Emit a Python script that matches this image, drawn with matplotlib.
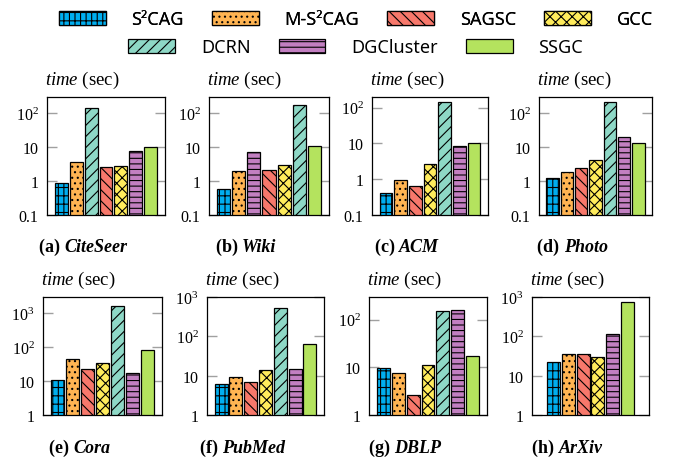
import numpy as np
import matplotlib
matplotlib.use('Agg')
import matplotlib.pyplot as plt
from matplotlib.patches import Patch
from matplotlib.offsetbox import TextArea, HPacker, AnchoredOffsetbox

plt.rcParams['font.family'] = ['Liberation Serif', 'DejaVu Serif']
plt.rcParams['mathtext.fontset'] = 'custom'
plt.rcParams['mathtext.rm'] = 'Liberation Serif'
plt.rcParams['mathtext.it'] = 'Liberation Serif:italic'
plt.rcParams['mathtext.bf'] = 'Liberation Serif:bold'
plt.rcParams['hatch.linewidth'] = 0.8

# methods, colours and hatches
methods = ['S2CAG', 'M-S2CAG', 'SAGSC', 'GCC', 'DCRN', 'DGCluster', 'SSGC']
labels = ['S\u00b2CAG', 'M-S\u00b2CAG', 'SAGSC', 'GCC', 'DCRN', 'DGCluster', 'SSGC']
colors = {'S2CAG': '#00aeef', 'M-S2CAG': '#ffb452', 'SAGSC': '#f7786b',
          'GCC': '#ffec5c', 'DCRN': '#8ed8c6', 'DGCluster': '#c27fc1',
          'SSGC': '#b4e35e'}
hatches = {'S2CAG': '|||--', 'M-S2CAG': '...', 'SAGSC': '\\\\\\',
           'GCC': 'xxx', 'DCRN': '///', 'DGCluster': '---', 'SSGC': ''}

# running time (sec) per dataset, in the bar order of each panel
order_a = ['S2CAG', 'M-S2CAG', 'DCRN', 'SAGSC', 'GCC', 'DGCluster', 'SSGC']
order_b = ['S2CAG', 'M-S2CAG', 'DGCluster', 'SAGSC', 'GCC', 'DCRN', 'SSGC']
order_c = ['S2CAG', 'M-S2CAG', 'SAGSC', 'GCC', 'DCRN', 'DGCluster', 'SSGC']
order_h = ['S2CAG', 'M-S2CAG', 'SAGSC', 'GCC', 'DGCluster', 'SSGC']

citeseer = [0.85, 3.5, 145, 2.65, 2.75, 7.5, 10.3]
wiki = [0.57, 2.0, 7.3, 2.16, 3.0, 170, 10.7]
acm = [0.41, 0.97, 0.63, 2.6, 147, 8.2, 10.2]
photo = [1.2, 1.77, 2.47, 4.0, 220, 20, 13]
cora = [11, 44, 22, 34, 1630, 17, 80]
pubmed = [6.2, 9.0, 6.7, 13.8, 535, 14.4, 65]
dblp = [9.8, 7.6, 2.6, 11.1, 155, 162, 17.2]
arxiv = [22.9, 35.7, 35, 30.6, 117, 760]

panels = [
    ('(a) ', 'CiteSeer', order_a, citeseer, (0.1, 300)),
    ('(b) ', 'Wiki', order_b, wiki, (0.1, 300)),
    ('(c) ', 'ACM', order_c, acm, (0.1, 200)),
    ('(d) ', 'Photo', order_c, photo, (0.1, 300)),
    ('(e) ', 'Cora', order_c, cora, (1, 3000)),
    ('(f) ', 'PubMed', order_c, pubmed, (1, 1000)),
    ('(g) ', 'DBLP', order_c, dblp, (1, 300)),
    ('(h) ', 'ArXiv', order_h, arxiv, (1, 1000)),
]

# axes boxes in pixels: left, top, right, bottom
boxes = [(47, 98, 165, 215.7), (209, 98, 329, 215.7), (372, 98, 488, 215.7),
         (539, 98, 652, 215.7), (43, 298, 162, 416), (207, 298, 324, 416),
         (369, 298, 487, 416), (532, 298, 649, 416)]

W, H = 688, 460
fig = plt.figure(figsize=(W / 100, H / 100), dpi=100)

tick_text = {0.1: '0.1', 1: '1', 10: '10', 100: '$10^2$', 1000: '$10^3$'}

for (tag, name, order, vals, ylim), (l, t, r, b) in zip(panels, boxes):
    ax = fig.add_axes([l / W, 1 - b / H, (r - l) / W, (b - t) / H])
    x = np.arange(len(order))
    for i, m in enumerate(order):
        ax.bar(x[i], vals[i], width=0.87, bottom=ylim[0] * 0.01,
               color=colors[m], edgecolor='black', linewidth=0.9,
               hatch=hatches[m], zorder=2)
    ax.set_yscale('log')
    ax.set_ylim(ylim)
    if len(order) == 7:
        ax.set_xlim(-0.95, 6.95)
    else:
        ax.set_xlim(-1.45, 6.45)
    ax.set_xticks([])
    ticks = [v for v in tick_text if ylim[0] <= v <= ylim[1]]
    ax.set_yticks(ticks)
    ax.set_yticklabels([tick_text[v] for v in ticks])
    ax.minorticks_off()
    ax.tick_params(axis='y', direction='in', left=True, right=True,
                   length=7, width=1.0, color='#a0a0a0', labelsize=11.5, pad=6)
    for s in ax.spines.values():
        s.set_linewidth(0.9)

    ax.text(-2 / (r - l), 1 + 17.5 / (b - t), r'$\mathit{time}$ (sec)',
            transform=ax.transAxes, ha='left', va='center', fontsize=13.5)

    # sub-caption: bold tag plus bold italic dataset name
    t1 = TextArea(tag, textprops=dict(fontsize=13, fontweight='bold'))
    t2 = TextArea(name, textprops=dict(fontsize=13, fontweight='bold',
                                       fontstyle='italic'))
    box = HPacker(children=[t1, t2], align='baseline', pad=0, sep=0)
    ab = AnchoredOffsetbox(loc='center', child=box, frameon=False, pad=0,
                           bbox_to_anchor=(0.5 - 23 / (r - l), -32 / (b - t)),
                           bbox_transform=ax.transAxes, borderpad=0)
    ax.add_artist(ab)

# legend in two rows
handles = [Patch(facecolor=colors[m], edgecolor='black', linewidth=0.9,
                 hatch=hatches[m]) for m in methods]
leg_kw = dict(loc='center', frameon=False, handlelength=2.6, handleheight=0.85,
              handletextpad=1.42, columnspacing=1.55,
              prop={'family': ['Noto Sans', 'DejaVu Sans'], 'size': 13})
leg1 = fig.legend(handles[:4], labels[:4], ncol=4,
                  bbox_to_anchor=(0.517, 1 - 20 / H), **leg_kw)
fig.legend(handles[4:], labels[4:], ncol=3,
           bbox_to_anchor=(0.517, 1 - 48.3 / H), **leg_kw)
fig.add_artist(leg1)

plt.savefig('out.png', dpi=100)
